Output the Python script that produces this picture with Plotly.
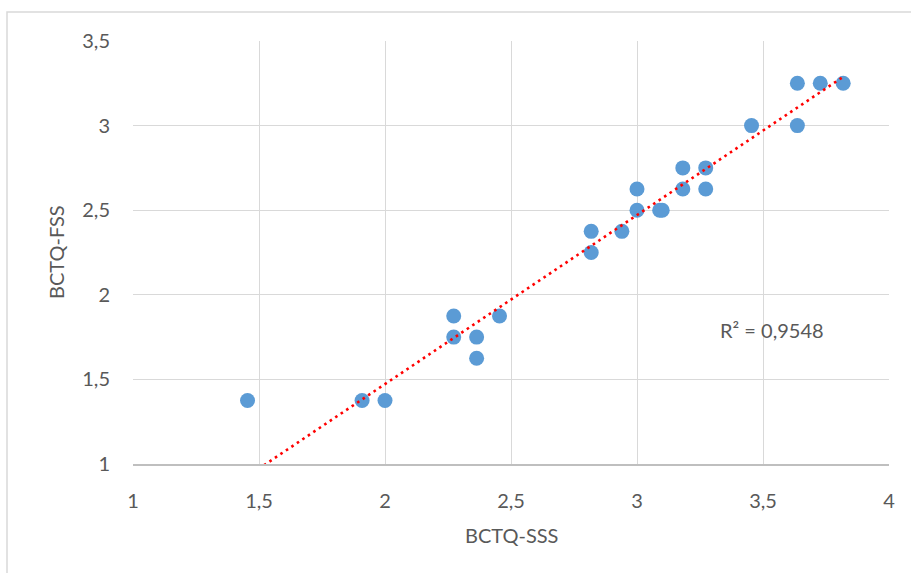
import numpy as np
import plotly.graph_objects as go

# Data
sss = [1.4545, 1.9091, 2.0, 2.2727, 2.2727, 2.3636, 2.3636, 2.4545,
       2.8182, 2.8182, 2.94, 3.0, 3.0, 3.09, 3.10, 3.1818, 3.1818,
       3.2727, 3.2727, 3.4545, 3.6364, 3.6364, 3.7273, 3.8182]
fss = [1.375, 1.375, 1.375, 1.875, 1.75, 1.75, 1.625, 1.875,
       2.375, 2.25, 2.375, 2.625, 2.5, 2.5, 2.5, 2.75, 2.625,
       2.75, 2.625, 3.0, 3.25, 3.0, 3.25, 3.25]
# Linear trendline (y = slope*x + intercept)
trend_slope = 0.9987
trend_intercept = -0.525
tick_vals = [1, 1.5, 2, 2.5, 3, 3.5, 4]
r2_label = "R² = 0,9548"
x_title = "BCTQ-SSS"
y_title = "BCTQ-FSS"

W, H = 911, 573
L, R, T, B = 133, 22, 41, 109
pw, ph = W - L - R, H - T - B

def px_x(p):
    return (p - L) / pw

def px_y(p):
    return (H - B - p) / ph

tx = np.array([min(sss), max(sss)])
ty = trend_slope * tx + trend_intercept

font_color = "#595959"
fnt = "Lato, 'Open Sans', sans-serif"

fig = go.Figure()
fig.add_trace(go.Scatter(
    x=sss, y=fss, mode="markers",
    marker=dict(size=15, color="#5B9BD5", line=dict(width=0)),
    showlegend=False, hoverinfo="skip"))
fig.add_trace(go.Scatter(
    x=tx, y=ty, mode="lines",
    line=dict(color="#FF0000", width=2.6, dash="2.6px,4px"),
    showlegend=False, hoverinfo="skip"))

fig.update_layout(
    width=W, height=H,
    margin=dict(l=L, r=R, t=T, b=B, pad=0),
    paper_bgcolor="white", plot_bgcolor="white",
    separators=",.",
    font=dict(family=fnt, size=20, color=font_color),
    xaxis=dict(range=[1, 4], tickvals=tick_vals, showgrid=True,
               gridcolor="#D9D9D9", gridwidth=1.3, zeroline=False,
               showline=True, linecolor="#BFBFBF", linewidth=1.5,
               ticks="", ticklabelstandoff=18, fixedrange=True),
    yaxis=dict(range=[1, 3.5], dtick=0.5, showgrid=True,
               gridcolor="#D9D9D9", gridwidth=1.3, zeroline=False,
               showline=False, ticks="", ticklabelstandoff=22,
               fixedrange=True),
    annotations=[
        dict(text=x_title, xref="paper", yref="paper",
             x=px_x(511), y=px_y(535), xanchor="center", yanchor="middle",
             showarrow=False, font=dict(size=20, color=font_color)),
        dict(text=y_title, xref="paper", yref="paper", textangle=-90,
             x=px_x(56), y=px_y(252), xanchor="center", yanchor="middle",
             showarrow=False, font=dict(size=20, color=font_color)),
        dict(text=r2_label, xref="paper", yref="paper",
             x=px_x(772), y=px_y(330), xanchor="center", yanchor="middle",
             showarrow=False, font=dict(size=20, color=font_color)),
    ],
    shapes=[dict(type="rect", xref="paper", yref="paper",
                 x0=px_x(7), x1=px_x(930), y0=px_y(590), y1=px_y(12),
                 line=dict(color="#D9D9D9", width=1.5), layer="below")],
)

fig.write_html("out.html")
